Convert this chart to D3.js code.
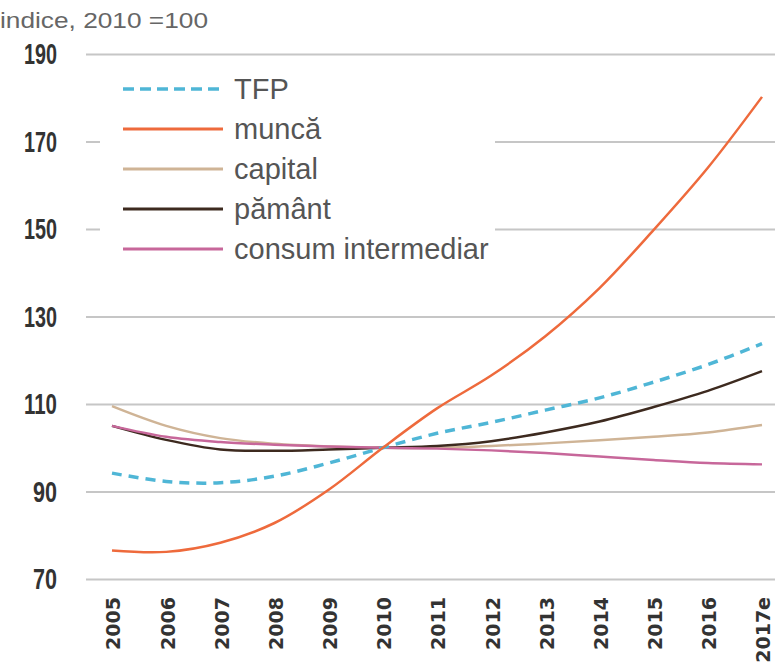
<!DOCTYPE html>
<html>
<head>
<meta charset="utf-8">
<script src="https://cdn.jsdelivr.net/npm/d3@7"></script>
<style>
  body { margin: 0; background: #fff; }
</style>
</head>
<body>
<script>

var years = ["2005", "2006", "2007", "2008", "2009", "2010", "2011", "2012", "2013", "2014", "2015", "2016", "2017e"];

var tfp     = [94.2, 92.3, 92.0, 93.5, 96.5, 100, 103.3, 105.8, 108.6, 111.4, 115.0, 119.0, 123.8];
var munca   = [76.5, 76.2, 78.3, 82.8, 90.4, 100, 109.0, 116.5, 125.5, 136.5, 149.8, 164.0, 180.2];
var capital = [109.5, 105.0, 102.2, 100.9, 100.3, 100, 100.0, 100.4, 101.0, 101.7, 102.5, 103.5, 105.2];
var pamant  = [105.0, 101.8, 99.6, 99.3, 99.6, 100, 100.4, 101.5, 103.5, 106.0, 109.3, 113.0, 117.5];
var consum  = [105.0, 102.5, 101.3, 100.7, 100.3, 100, 99.8, 99.4, 98.8, 98.0, 97.2, 96.5, 96.2];

var yTicks = [70, 90, 110, 130, 150, 170, 190];

var seriesNames  = ["TFP", "muncă", "capital", "pământ", "consum intermediar"];
var seriesValues = [tfp, munca, capital, pamant, consum];
var seriesColors = ["#4fb6d6", "#ee6a3c", "#cfb496", "#3d2a1f", "#c7679a"];
var drawOrder    = [2, 3, 4, 0, 1];


var width = 775,
    height = 663;

var svg = d3.select("body")
    .append("svg")
        .attr("width", width)
        .attr("height", height);

var x = d3.scalePoint()
    .domain(years)
    .range([112, 762]);

var y = d3.scaleLinear()
    .domain([70, 190])
    .range([579, 54]);


// title
svg.append("text")
    .attr("x", 0)
    .attr("y", 28)
    .attr("font-family", "Liberation Sans, sans-serif")
    .attr("font-size", 22)
    .attr("fill", "#666")
    .attr("textLength", 208)
    .attr("lengthAdjust", "spacingAndGlyphs")
    .text("indice, 2010 =100");


// grid + y labels
var yAxis = svg.append("g")
    .attr("transform", "translate(86,0)")
    .call(d3.axisLeft(y)
        .tickValues(yTicks)
        .tickSizeInner(-(width - 86))
        .tickSizeOuter(0)
        .tickPadding(29));

yAxis.select(".domain").remove();

yAxis.selectAll(".tick line")
    .attr("stroke", "#c6c6c6")
    .attr("stroke-width", 2);

yAxis.selectAll(".tick text")
    .attr("font-family", "Liberation Sans, sans-serif")
    .attr("font-weight", "bold")
    .attr("font-size", 30)
    .attr("fill", "#333")
    .attr("textLength", function(d) { return d >= 100 ? 33 : 24; })
    .attr("lengthAdjust", "spacingAndGlyphs");


// x labels
var xAxis = svg.append("g")
    .attr("transform", "translate(0,579)")
    .call(d3.axisBottom(x).tickSize(0));

xAxis.select(".domain").remove();

xAxis.selectAll(".tick text")
    .attr("transform", "rotate(-90)")
    .attr("text-anchor", "end")
    .attr("x", -18)
    .attr("y", 0)
    .attr("dy", "0.42em")
    .attr("font-family", "DejaVu Sans, sans-serif")
    .attr("font-weight", "bold")
    .attr("font-size", 19)
    .attr("fill", "#333");


// legend box hides grid
svg.append("rect")
    .attr("x", 100)
    .attr("y", 66)
    .attr("width", 395)
    .attr("height", 204)
    .attr("fill", "#fff");


// lines
var line = d3.line()
    .x(function(d, i) { return x(years[i]); })
    .y(function(d) { return y(d); })
    .curve(d3.curveCatmullRom.alpha(0.5));

drawOrder.forEach(function(k) {

    svg.append("path")
        .datum(seriesValues[k])
        .attr("d", line)
        .attr("fill", "none")
        .attr("stroke", seriesColors[k])
        .attr("stroke-width", k === 0 ? 3.5 : 2.5)
        .attr("stroke-dasharray", k === 0 ? "10,7" : null)
        .attr("stroke-linecap", "butt");

});


// legend
var legend = svg.append("g");

seriesNames.forEach(function(name, i) {

    var ly = 89 + i * 40;

    legend.append("line")
        .attr("x1", 123)
        .attr("x2", 223)
        .attr("y1", ly)
        .attr("y2", ly)
        .attr("stroke", seriesColors[i])
        .attr("stroke-width", i === 0 ? 3.5 : 3)
        .attr("stroke-dasharray", i === 0 ? "11,6" : null);

    legend.append("text")
        .attr("x", 234)
        .attr("y", ly)
        .attr("dy", "0.35em")
        .attr("font-family", "Liberation Sans, sans-serif")
        .attr("font-size", 29)
        .attr("fill", "#555")
        .text(name);

});

</script>
</body>
</html>
